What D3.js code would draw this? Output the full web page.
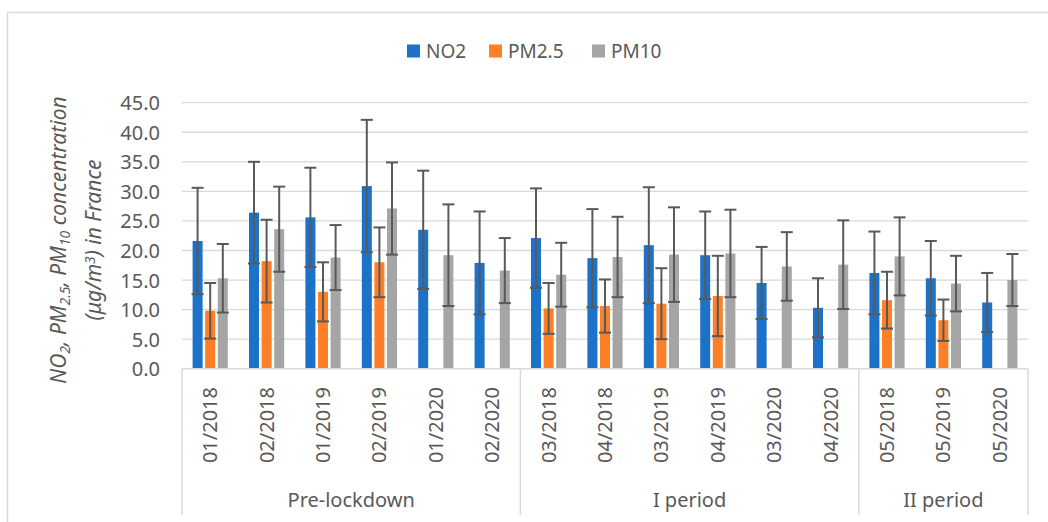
<!DOCTYPE html>
<html>
<head>
<meta charset="utf-8">
<script src="https://cdn.jsdelivr.net/npm/d3@7/dist/d3.min.js"></script>
<style>
  html, body { margin: 0; padding: 0; background: #fff; }
  svg { display: block; }
  text { font-family: "Noto Sans", "Open Sans", sans-serif; fill: #595959; }
</style>
</head>
<body>
<svg id="chart" width="1048" height="522"></svg>
<script>
// ---- data ----
const categories = ["01/2018","02/2018","01/2019","02/2019","01/2020","02/2020",
                    "03/2018","04/2018","03/2019","04/2019","03/2020","04/2020",
                    "05/2018","05/2019","05/2020"];
const groups = ["Pre-lockdown","I period","II period"];
const groupSizes = [6, 6, 3];
const seriesNames = ["NO2","PM2.5","PM10"];
const no2   = [21.6, 26.4, 25.6, 30.9, 23.5, 17.9, 22.1, 18.7, 20.9, 19.2, 14.5, 10.3, 16.2, 15.3, 11.2];
const no2Err= [ 9.0,  8.6,  8.4, 11.2, 10.0,  8.7,  8.4,  8.3,  9.8,  7.4,  6.1,  5.0,  7.0,  6.3,  5.0];
const pm25  = [ 9.8, 18.2, 13.0, 18.0, null, null, 10.2, 10.6, 11.0, 12.3, null, null, 11.6,  8.2, null];
const pm25Err=[ 4.7,  7.0,  5.0,  5.9, null, null,  4.3,  4.5,  6.0,  6.8, null, null,  4.8,  3.5, null];
const pm10  = [15.3, 23.6, 18.8, 27.1, 19.2, 16.6, 15.9, 18.9, 19.3, 19.5, 17.3, 17.6, 19.0, 14.4, 15.0];
const pm10Err=[ 5.8,  7.2,  5.5,  7.8,  8.6,  5.5,  5.4,  6.8,  8.0,  7.4,  5.8,  7.5,  6.6,  4.7,  4.4];
const yTicks = [0,5,10,15,20,25,30,35,40,45];

const colors = {"NO2": "#1b72c8", "PM2.5": "#fd7f28", "PM10": "#a5a5a5"};
const seriesVals = {"NO2": [no2, no2Err], "PM2.5": [pm25, pm25Err], "PM10": [pm10, pm10Err]};

// ---- layout ----
const svg = d3.select("#chart");
const plotL = 182, plotR = 1028, plotTop = 102.7, plotBot = 368.7, axisBottom = 515;

// outer chart border
svg.append("rect").attr("x", 7.5).attr("y", 12.5).attr("width", 1100).attr("height", 600)
  .attr("fill", "none").attr("stroke", "#d9d9d9").attr("stroke-width", 1.5);

const x = d3.scaleBand().domain(categories).range([plotL, plotR]).padding(0);
const xs = d3.scaleBand().domain(seriesNames).range([0, x.bandwidth()])
  .paddingInner(0.206).paddingOuter(0.841);
const y = d3.scaleLinear().domain([0, 45]).range([plotBot, plotTop]);

// gridlines
svg.append("g").selectAll("line").data(yTicks.filter(d => d > 0)).join("line")
  .attr("x1", plotL).attr("x2", plotR)
  .attr("y1", d => y(d)).attr("y2", d => y(d))
  .attr("stroke", "#d9d9d9").attr("stroke-width", 1.3);

// y axis (labels only)
const yAxis = d3.axisLeft(y).tickValues(yTicks).tickFormat(d3.format(".1f")).tickSize(0).tickPadding(0);
const yg = svg.append("g").attr("transform", `translate(160,0)`).call(yAxis);
yg.select(".domain").remove();
yg.selectAll("text").style("font-size", "20px").style("fill", "#595959")
  .style("font-family", "'Noto Sans', sans-serif").attr("dy", "0.35em");

// bars
const rows = [];
seriesNames.forEach(s => {
  const [vals, errs] = seriesVals[s];
  categories.forEach((c, i) => {
    if (vals[i] != null) rows.push({s, c, v: vals[i], e: errs[i]});
  });
});
svg.append("g").selectAll("rect").data(rows).join("rect")
  .attr("x", d => x(d.c) + xs(d.s))
  .attr("width", xs.bandwidth())
  .attr("y", d => y(d.v))
  .attr("height", d => y(0) - y(d.v))
  .attr("fill", d => colors[d.s]);

// error bars
const eg = svg.append("g").attr("stroke", "#595959").attr("stroke-width", 2);
const cap = 6;
rows.forEach(d => {
  const cx = x(d.c) + xs(d.s) + xs.bandwidth() / 2;
  const y1 = y(d.v + d.e), y2 = y(d.v - d.e);
  eg.append("line").attr("x1", cx).attr("x2", cx).attr("y1", y1).attr("y2", y2);
  eg.append("line").attr("x1", cx - cap).attr("x2", cx + cap).attr("y1", y1).attr("y2", y1);
  eg.append("line").attr("x1", cx - cap).attr("x2", cx + cap).attr("y1", y2).attr("y2", y2);
});

// category axis line and group dividers
svg.append("line").attr("x1", plotL).attr("x2", plotR).attr("y1", plotBot).attr("y2", plotBot)
  .attr("stroke", "#d9d9d9").attr("stroke-width", 1.5);
let acc = 0;
const bounds = [0];
groupSizes.forEach(n => { acc += n; bounds.push(acc); });
svg.append("g").selectAll("line").data(bounds).join("line")
  .attr("x1", i => i < categories.length ? x(categories[i]) : plotR)
  .attr("x2", i => i < categories.length ? x(categories[i]) : plotR)
  .attr("y1", plotBot).attr("y2", axisBottom)
  .attr("stroke", "#d9d9d9").attr("stroke-width", 1.5);

// category labels (rotated)
svg.append("g").selectAll("text").data(categories).join("text")
  .attr("transform", d => `translate(${x(d) + x.bandwidth() / 2},387) rotate(-90)`)
  .attr("text-anchor", "end").attr("dy", "0.35em")
  .style("font-size", "20px").text(d => d);

// group labels
svg.append("g").selectAll("text").data(groups).join("text")
  .attr("x", (g, i) => {
    const a = x(categories[bounds[i]]);
    const b = bounds[i + 1] < categories.length ? x(categories[bounds[i + 1]]) : plotR;
    return (a + b) / 2;
  })
  .attr("y", 507).attr("text-anchor", "middle")
  .style("font-size", "20px").text(d => d);

// y title
const yt = svg.append("text").attr("transform", "translate(59,240) rotate(-90)")
  .attr("text-anchor", "middle").style("font-size", "21px").style("font-style", "italic");
const t1 = [["NO",""],["2","sub"],[", PM",""],["2.5","sub"],[", PM",""],["10","sub"],[" concentration",""]];
const l1 = yt.append("tspan").attr("x", 0).attr("dy", "0.35em");
t1.forEach(([t, k]) => {
  const ts = l1.append("tspan").text(t);
  if (k === "sub") ts.attr("font-size", "14px").attr("baseline-shift", "-25%");
});
const yt2 = svg.append("text").attr("transform", "translate(94,240) rotate(-90)")
  .attr("text-anchor", "middle").style("font-size", "21px").style("font-style", "italic")
  .attr("dy", "0.35em");
yt2.append("tspan").text("(μg/m");
yt2.append("tspan").text("3").attr("font-size", "14px").attr("baseline-shift", "40%");
yt2.append("tspan").text(") in France");

// legend
const legX = [407, 489, 592];
const lg = svg.append("g").selectAll("g").data(seriesNames).join("g")
  .attr("transform", (d, i) => `translate(${legX[i]},44.5)`);
lg.append("rect").attr("width", 13).attr("height", 13).attr("fill", d => colors[d]);
lg.append("text").attr("x", 19).attr("y", 13).style("font-size", "19px").text(d => d);
</script>
</body>
</html>
